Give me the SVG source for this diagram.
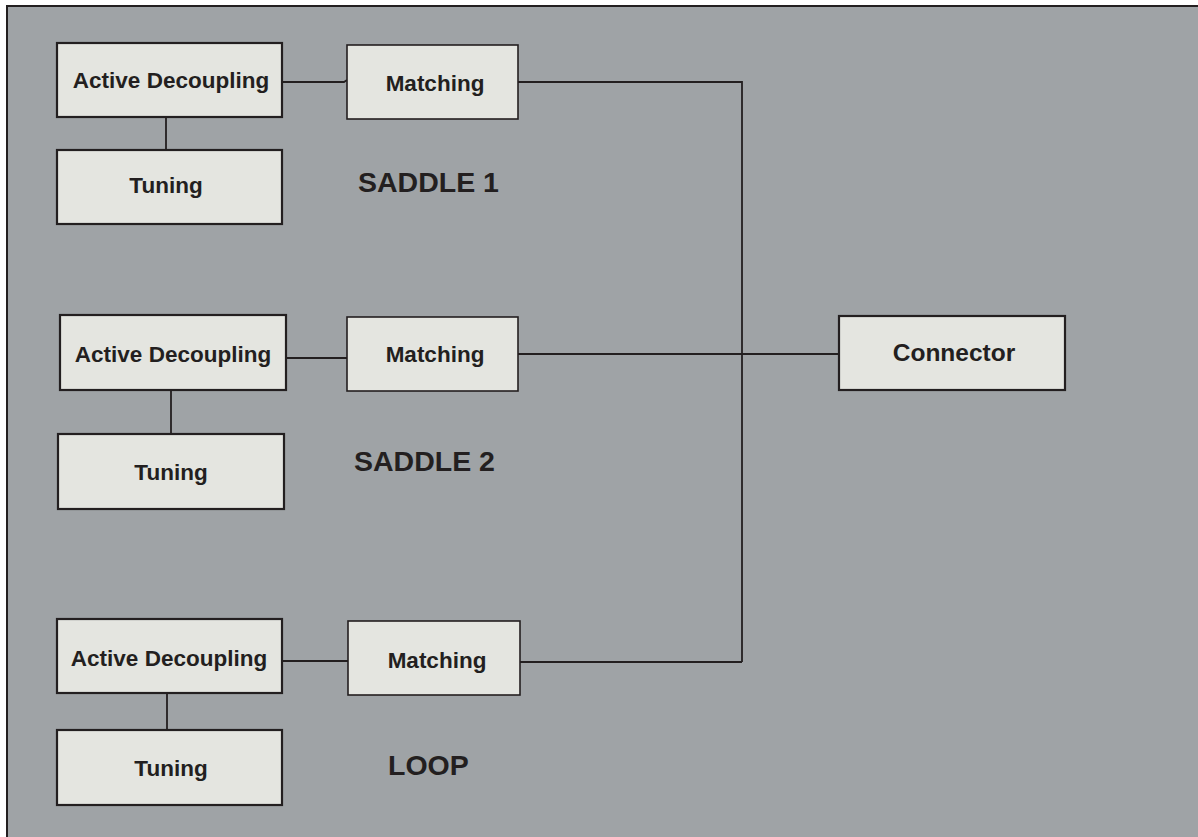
<svg xmlns="http://www.w3.org/2000/svg" width="1198" height="837" viewBox="0 0 1198 837">
<style>
.box{fill:#e4e5e0;stroke:#231f20;stroke-width:2.2}
.mbox{fill:#e4e5e0;stroke:#231f20;stroke-width:1.6}
.t{font-family:"Liberation Sans",Arial,sans-serif;font-weight:bold;fill:#231f20;text-anchor:middle;font-size:22.5px}
.big{font-family:"Liberation Sans",Arial,sans-serif;font-weight:bold;fill:#231f20;font-size:28.5px}
.ln{stroke:#231f20;stroke-width:1.8;fill:none}
</style>
<rect x="0" y="0" width="1198" height="837" fill="#ffffff"/>
<rect x="7" y="6" width="1200" height="840" fill="#9fa3a6" stroke="#231f20" stroke-width="2"/>
<g id="connectors">
<line class="ln" x1="166" y1="117" x2="166" y2="150"/>
<polyline class="ln" points="282,82 344,82 347,80"/>
<polyline class="ln" points="518,82 742,82 742,662"/>
<line class="ln" x1="171" y1="390" x2="171" y2="434"/>
<line class="ln" x1="286" y1="358" x2="347" y2="358"/>
<line class="ln" x1="518" y1="354" x2="839" y2="354"/>
<line class="ln" x1="167" y1="693" x2="167" y2="730"/>
<line class="ln" x1="282" y1="661" x2="348" y2="661"/>
<line class="ln" x1="520" y1="662" x2="742" y2="662" stroke-width="2.5"/>
</g>
<g id="ad1"><rect class="box" x="57" y="43" width="225" height="74"/><text class="t" x="171" y="88">Active Decoupling</text></g>
<g id="tuning1"><rect class="box" x="57" y="150" width="225" height="74"/><text class="t" x="166" y="193">Tuning</text></g>
<g id="matching1"><rect class="mbox" x="347" y="45" width="171" height="74"/><text class="t" x="435" y="91">Matching</text></g>
<g id="saddle1"><text class="big" x="358" y="192">SADDLE 1</text></g>
<g id="ad2"><rect class="box" x="60" y="315" width="226" height="75"/><text class="t" x="173" y="362">Active Decoupling</text></g>
<g id="tuning2"><rect class="box" x="58" y="434" width="226" height="75"/><text class="t" x="171" y="480">Tuning</text></g>
<g id="matching2"><rect class="mbox" x="347" y="317" width="171" height="74"/><text class="t" x="435" y="362">Matching</text></g>
<g id="saddle2"><text class="big" x="354" y="471">SADDLE 2</text></g>
<g id="connector"><rect class="box" x="839" y="316" width="226" height="74"/><text class="t" x="954" y="361" font-size="24.5px" style="font-size:24.5px">Connector</text></g>
<g id="ad3"><rect class="box" x="57" y="619" width="225" height="74"/><text class="t" x="169" y="666">Active Decoupling</text></g>
<g id="tuning3"><rect class="box" x="57" y="730" width="225" height="75"/><text class="t" x="171" y="776">Tuning</text></g>
<g id="matching3"><rect class="mbox" x="348" y="621" width="172" height="74"/><text class="t" x="437" y="668">Matching</text></g>
<g id="loop"><text class="big" x="388" y="775">LOOP</text></g>
</svg>
